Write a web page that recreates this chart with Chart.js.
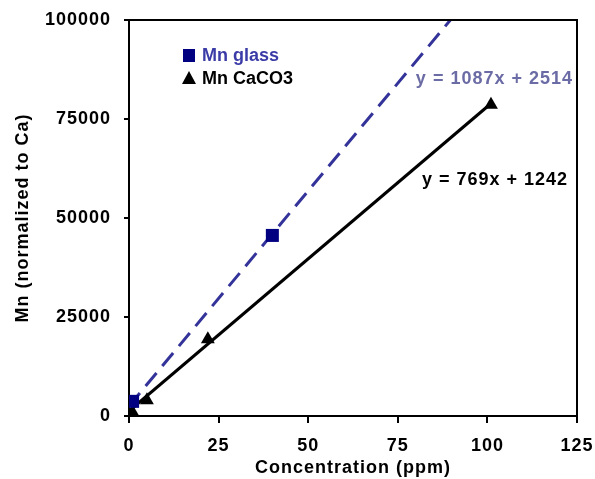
<!DOCTYPE html>
<html>
<head>
<meta charset="utf-8">
<script src="https://cdn.jsdelivr.net/npm/chart.js@4.4.1/dist/chart.umd.min.js"></script>
<style>
  html, body { margin: 0; padding: 0; background: #ffffff; }
  #wrap { width: 595px; height: 479px; }
</style>
</head>
<body>
<div id="wrap"><canvas id="c" width="595" height="479"></canvas></div>
<script>
// Measured standards: concentration (ppm) vs Mn signal normalised to Ca
const glassConc = [1, 40];
const glassMn = [3700, 45600];
const calciteConc = [0, 1, 5, 22, 101];
const calciteMn = [100, 900, 4000, 19400, 78600];

// Linear fits [slope, intercept] and the x-range each fit line spans
const glassFit = [1087, 2514];
const calciteFit = [769, 1242];
const glassFitRange = [0, 92];
const calciteFitRange = [0, 101];

// Axis ticks
const xTicks = [0, 25, 50, 75, 100, 125];
const yTicks = [0, 25000, 50000, 75000, 100000];

const seriesNames = ['Mn glass', 'Mn CaCO3'];
const fitLabels = ['y = 1087x + 2514', 'y = 769x + 1242'];

const FONT = '"Liberation Sans", Arial, sans-serif';
const GLASS_FILL = '#000080';
const GLASS_LINE = '#333399';
const GLASS_TEXT = '#3b3ba8';
const GLASS_EQ = '#6b6ba6';
const SPACING = '1px';

const toPoints = (xs, ys) => xs.map((x, i) => ({ x: x, y: ys[i] }));
const fitPoints = (fit, range) => range.map(x => ({ x: x, y: fit[0] * x + fit[1] }));

// Slightly spaced lettering for axis text
const spacingPlugin = {
  id: 'spacing',
  beforeUpdate(chart) { chart.ctx.letterSpacing = SPACING; },
  beforeLayout(chart) { chart.ctx.letterSpacing = SPACING; },
  beforeDraw(chart) { chart.ctx.letterSpacing = SPACING; }
};

const framePlugin = {
  id: 'frame',
  afterDraw(chart) {
    const { ctx, chartArea: a } = chart;
    ctx.save();
    ctx.strokeStyle = '#000';
    ctx.lineWidth = 2;
    ctx.beginPath();
    ctx.moveTo(a.left, a.top);
    ctx.lineTo(a.right, a.top);
    ctx.lineTo(a.right, a.bottom);
    ctx.stroke();
    ctx.restore();
  }
};

const keyPlugin = {
  id: 'key',
  afterDatasetsDraw(chart) {
    const { ctx, chartArea: a } = chart;
    ctx.save();
    ctx.font = 'bold 18px ' + FONT;
    ctx.textBaseline = 'middle';
    ctx.textAlign = 'left';
    ctx.letterSpacing = '0px';

    // legend: square marker for glass
    const lx = a.left + 60;
    ctx.fillStyle = GLASS_FILL;
    ctx.fillRect(lx - 6, a.top + 29, 12, 13);
    ctx.fillStyle = GLASS_TEXT;
    ctx.fillText(seriesNames[0], lx + 13, a.top + 36);

    // legend: triangle marker for calcite
    ctx.fillStyle = '#000';
    ctx.beginPath();
    ctx.moveTo(lx, a.top + 51);
    ctx.lineTo(lx + 7, a.top + 64);
    ctx.lineTo(lx - 7, a.top + 64);
    ctx.closePath();
    ctx.fill();
    ctx.fillText(seriesNames[1], lx + 13, a.top + 59);

    // fit equations
    ctx.letterSpacing = SPACING;
    ctx.textAlign = 'right';
    ctx.fillStyle = GLASS_EQ;
    ctx.fillText(fitLabels[0], a.right - 4, a.top + 59);
    ctx.fillStyle = '#000';
    ctx.fillText(fitLabels[1], a.right - 9, a.top + 160);
    ctx.restore();
  }
};

new Chart(document.getElementById('c'), {
  type: 'scatter',
  data: {
    datasets: [
      {
        label: seriesNames[0],
        data: toPoints(glassConc, glassMn),
        pointStyle: 'rect',
        pointRadius: 9.2,
        pointHoverRadius: 9.2,
        backgroundColor: GLASS_FILL,
        borderColor: GLASS_FILL,
        borderWidth: 0,
        showLine: false
      },
      {
        label: seriesNames[1],
        data: toPoints(calciteConc, calciteMn),
        pointStyle: 'triangle',
        pointRadius: 8,
        pointHoverRadius: 8,
        backgroundColor: '#000',
        borderColor: '#000',
        borderWidth: 0,
        showLine: false
      },
      {
        label: 'glass fit',
        data: fitPoints(glassFit, glassFitRange),
        showLine: true,
        borderColor: GLASS_LINE,
        borderWidth: 3,
        borderDash: [17, 9],
        pointRadius: 0,
        fill: false
      },
      {
        label: 'calcite fit',
        data: fitPoints(calciteFit, calciteFitRange),
        showLine: true,
        borderColor: '#000',
        borderWidth: 3,
        pointRadius: 0,
        fill: false
      }
    ]
  },
  options: {
    responsive: false,
    devicePixelRatio: 1,
    animation: false,
    events: [],
    layout: { padding: { top: 20, right: 18, left: 0, bottom: 0 } },
    plugins: {
      legend: { display: false },
      tooltip: { enabled: false }
    },
    scales: {
      x: {
        type: 'linear',
        min: xTicks[0],
        max: xTicks[xTicks.length - 1],
        afterBuildTicks: s => { s.ticks = xTicks.map(v => ({ value: v })); },
        afterFit: s => { s.height = 63; s.paddingLeft = 0; s.paddingRight = 0; },
        ticks: {
          color: '#000',
          font: { family: FONT, size: 18, weight: 'bold' },
          padding: 12,
          maxRotation: 0,
          callback: v => String(v)
        },
        grid: {
          drawOnChartArea: false,
          drawTicks: true,
          tickLength: 7,
          color: '#000',
          lineWidth: 2
        },
        border: { display: true, color: '#000', width: 2 },
        title: {
          display: true,
          text: 'Concentration (ppm)',
          color: '#000',
          font: { family: FONT, size: 18, weight: 'bold' },
          padding: { top: 0, bottom: 0 }
        }
      },
      y: {
        type: 'linear',
        min: yTicks[0],
        max: yTicks[yTicks.length - 1],
        afterBuildTicks: s => { s.ticks = yTicks.map(v => ({ value: v })); },
        afterFit: s => { s.width = 129; s.paddingTop = 0; s.paddingBottom = 0; },
        ticks: {
          color: '#000',
          font: { family: FONT, size: 18, weight: 'bold' },
          padding: 13,
          callback: v => String(v)
        },
        grid: {
          drawOnChartArea: false,
          drawTicks: true,
          tickLength: 5,
          color: '#000',
          lineWidth: 2
        },
        border: { display: true, color: '#000', width: 2 },
        title: {
          display: true,
          text: 'Mn (normalized to Ca)',
          color: '#000',
          font: { family: FONT, size: 18, weight: 'bold' },
          padding: { top: 12, bottom: 0 }
        }
      }
    }
  },
  plugins: [spacingPlugin, framePlugin, keyPlugin]
});
</script>
</body>
</html>
